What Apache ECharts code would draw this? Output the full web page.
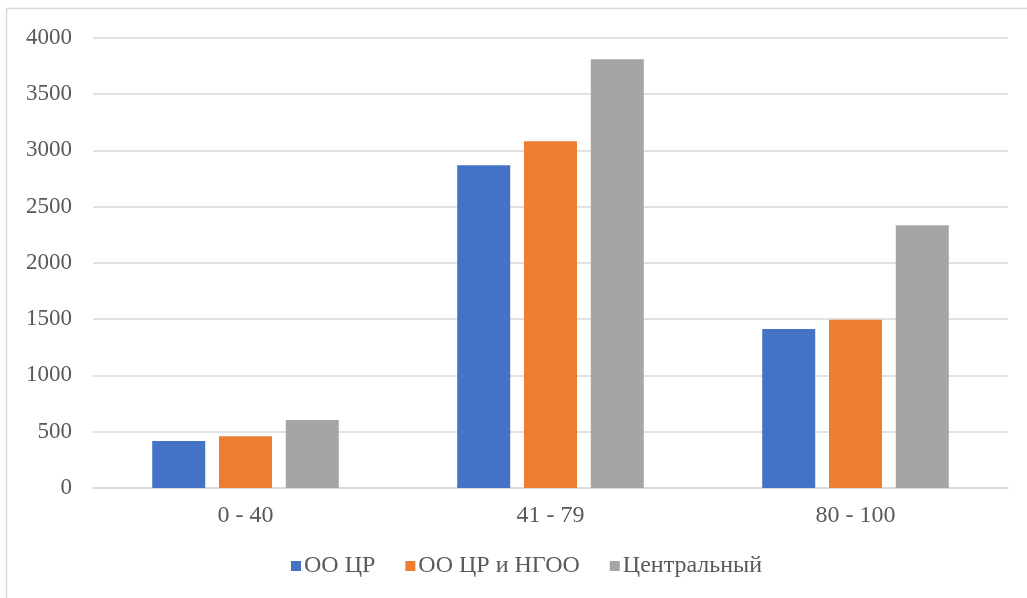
<!DOCTYPE html>
<html><head><meta charset="utf-8">
<script src="https://cdn.jsdelivr.net/npm/echarts@6/dist/echarts.min.js"></script>
<style>html,body{margin:0;padding:0;background:#fff}#c{width:1027px;height:598px}</style>
</head><body><div id="c"></div>
<script>
const categories = ['0 - 40', '41 - 79', '80 - 100'];
const seriesNames = ['ОО ЦР', 'ОО ЦР и НГОО', 'Центральный'];
const s1 = [417, 2866, 1412];
const s2 = [459, 3080, 1495];
const s3 = [604, 3808, 2333];
const colors = ['#4472C4', '#ED7D31', '#A5A5A5'];
const font = "'Liberation Serif', 'DejaVu Serif', serif";
const chart = echarts.init(document.getElementById('c'));
chart.setOption({
  animation: false,
  backgroundColor: '#fff',
  graphic: [{type:'rect', shape:{x:6.5, y:8.5, width:1040, height:620}, style:{fill:'none', stroke:'#d9d9d9', lineWidth:1.5}, silent:true}],
  grid: {left: 93, right: 19, top: 37.7, bottom: 110},
  legend: {
    bottom: 15, left: 286, itemWidth: 10, itemHeight: 10, itemGap: 30,
    icon: 'rect',
    textStyle: {fontFamily: font, fontSize: 24, color: '#595959', padding:[0,0,0,-2]},
    data: seriesNames
  },
  xAxis: {
    type: 'category', data: categories,
    axisLine: {lineStyle: {color: '#d9d9d9', width: 1.5}},
    axisTick: {show: false},
    axisLabel: {fontFamily: font, fontSize: 24, color: '#595959', margin: 16}
  },
  yAxis: {
    type: 'value', min: 0, max: 4000, interval: 500,
    axisLine: {show: false}, axisTick: {show: false},
    axisLabel: {fontFamily: font, fontSize: 23, color: '#595959', margin: 21, formatter: v => String(v)},
    splitLine: {lineStyle: {color: '#d9d9d9', width: 1.5}}
  },
  series: [s1, s2, s3].map((d, i) => ({
    name: seriesNames[i], type: 'bar', data: d, barWidth: 53, barGap: '26%',
    itemStyle: {color: colors[i]}
  }))
});
</script></body></html>
